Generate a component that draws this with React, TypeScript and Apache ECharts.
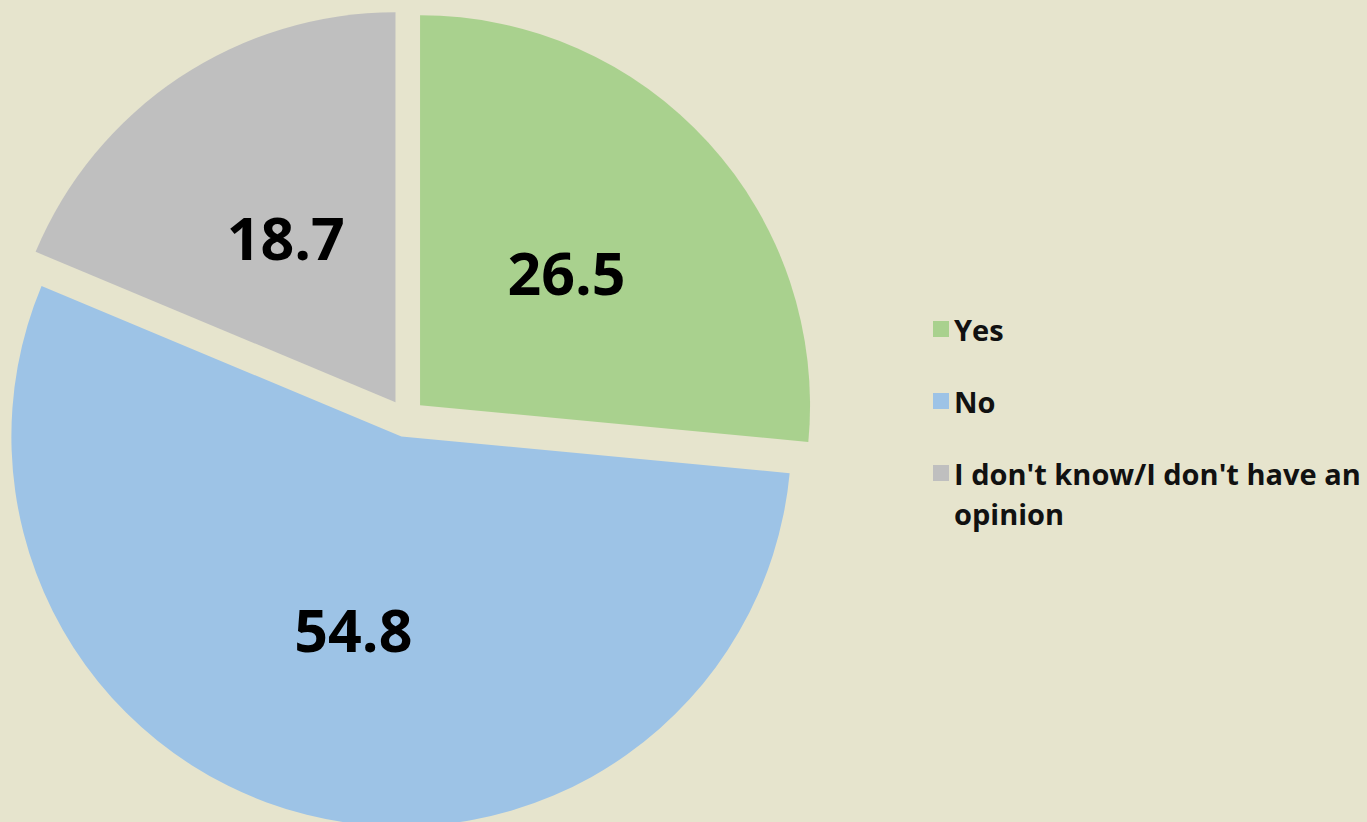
import React, { useEffect, useRef } from "react";
import * as echarts from "echarts";

const categories = ["Yes", "No", "I don't know/I don't have an opinion"];
const values = [26.5, 54.8, 18.7];
const colors = ["#a9d18e", "#9dc3e6", "#bfbfbf"];

export default function App() {
  const ref = useRef<HTMLDivElement>(null);
  useEffect(() => {
    document.body.style.margin = "0";
    const chart = echarts.init(ref.current!, null, { renderer: "svg" });
    chart.setOption({
      animation: false,
      backgroundColor: "#e6e4cd",
      legend: {
        orient: "vertical",
        left: 928,
        top: 264,
        itemWidth: 16,
        itemHeight: 16,
        itemGap: -48,
        icon: "rect",
        selectedMode: false,
        textStyle: {
          fontFamily: "Open Sans",
          fontWeight: "bold",
          fontSize: 29,
          color: "#111",
          lineHeight: 40,
        },
        data: categories,
        formatter: (name: string) =>
          name === categories[2]
            ? "\nI don't know/I don't have an\nopinion"
            : "\n" + name + "\n",
      },
      series: [
        {
          type: "pie",
          center: [406, 418],
          radius: [0, 390],
          startAngle: 90,
          clockwise: true,
          selectedMode: "multiple",
          selectedOffset: 19,
          emphasis: { disabled: true },
          label: {
            show: true,
            position: "inside",
            formatter: (p: any) => p.value.toFixed(1),
            fontFamily: "Open Sans",
            fontWeight: "bold",
            fontSize: 59,
            color: "#000",
          },
          labelLine: { show: false },
          data: categories.map((c, i) => ({
            name: c,
            value: values[i],
            selected: true,
            itemStyle: { color: colors[i] },
          })),
        },
      ],
    });
    return () => chart.dispose();
  }, []);
  return <div ref={ref} style={{ width: 1367, height: 822 }} />;
}
